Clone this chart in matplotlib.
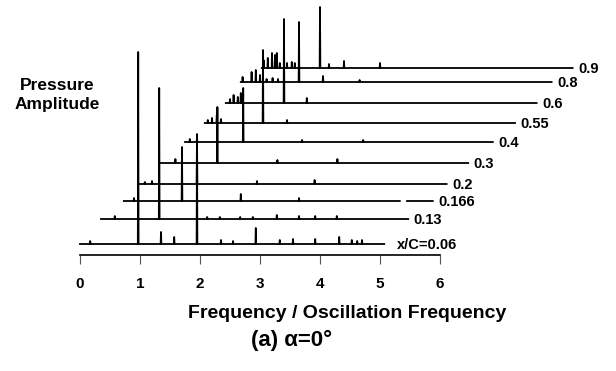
import numpy as np
import matplotlib
matplotlib.use("Agg")
import matplotlib.pyplot as plt

plt.rcParams["font.family"] = ["Liberation Sans", "DejaVu Sans"]

# one spectrum per chord station x/C, stacked as a waterfall
labels = ["x/C=0.06", "0.13", "0.166", "0.2", "0.3", "0.4", "0.55", "0.6", "0.8", "0.9"]
shift_x = [0.0, 0.35, 0.73, 0.98, 1.32, 1.75, 2.08, 2.43, 2.68, 3.03]   # freq units
shift_y = [11, 36, 54, 71, 92, 113, 132, 152, 173, 187]                  # amplitude units
span = [5.07, 5.12, 5.15, 5.13, 5.15, 5.13, 5.17, 5.18, 5.18, 5.18]
gaps = [None, None, (4.6, 4.72), None, None, None, None, None, None, None]

peak_f = [
    [0.17, 0.97, 1.35, 1.57, 1.95, 2.35, 2.55, 2.93, 3.33, 3.55, 3.92, 4.32, 4.53, 4.62, 4.7],
    [0.23, 0.97, 1.77, 1.98, 2.32, 2.53, 2.93, 3.3, 3.57, 3.93],
    [0.17, 0.97, 1.95, 2.92],
    [0.1, 0.22, 0.97, 1.97, 2.93],
    [0.27, 0.97, 1.97, 2.97],
    [0.08, 0.2, 0.97, 1.95, 2.97],
    [0.05, 0.12, 0.2, 0.27, 0.97, 1.37],
    [0.07, 0.13, 0.2, 0.25, 0.97, 1.35],
    [0.03, 0.18, 0.25, 0.32, 0.43, 0.53, 0.62, 0.97, 1.37, 1.98],
    [0.03, 0.1, 0.17, 0.22, 0.25, 0.3, 0.42, 0.5, 0.55, 0.97, 1.12, 1.37, 1.97],
]
peak_h = [
    [3, 192, 12, 7, 110, 4, 3, 16, 4, 5, 5, 7, 4, 3, 4],
    [3, 131, 2, 2, 2, 2, 4, 3, 3, 3],
    [3, 54, 7, 3],
    [2, 3, 49, 3, 4],
    [4, 56, 3, 4],
    [3, 5, 54, 2, 2],
    [3, 5, 8, 4, 73, 3],
    [4, 8, 6, 10, 84, 5],
    [5, 10, 12, 7, 3, 4, 3, 60, 6, 2],
    [8, 10, 15, 13, 15, 5, 5, 6, 5, 61, 4, 7, 5],
]

xticks = [0, 1, 2, 3, 4, 5, 6]


def spectrum(freqs, heights, end, gap, w=0.006):
    xs, ys = [0.0], [0.0]
    for f, h in sorted(zip(freqs, heights)):
        xs += [f - w, f, f + w]
        ys += [0.0, h, 0.0]
    xs.append(end)
    ys.append(0.0)
    xs, ys = np.array(xs), np.array(ys)
    if gap is not None:
        keep = (xs <= gap[0]) | (xs >= gap[1])
        xs, ys = xs[keep], ys[keep]
        i = np.searchsorted(xs, gap[1])
        xs = np.insert(xs, i, [gap[0], np.nan, gap[1]])
        ys = np.insert(ys, i, [0.0, np.nan, 0.0])
    return xs, ys


fig = plt.figure(figsize=(6.16, 3.71), dpi=100)
ax = fig.add_axes([80 / 616, 116 / 371, 360 / 616, 255 / 371])
ax.set_xlim(0, 6)
ax.set_ylim(0, 255)

for i, lab in enumerate(labels):
    xs, ys = spectrum(peak_f[i], peak_h[i], span[i], gaps[i])
    ax.plot(xs + shift_x[i], ys + shift_y[i], color="black", lw=1.3,
            solid_joinstyle="round", clip_on=False)
    off = 0.22 if i == 0 else 0.09
    ax.text(shift_x[i] + span[i] + off, shift_y[i] - 1, lab, fontsize=10.5,
            fontweight="bold", ha="left", va="center", clip_on=False)

for s in ["left", "top", "right"]:
    ax.spines[s].set_visible(False)
ax.spines["bottom"].set_linewidth(1.2)
ax.set_yticks([])
ax.set_xticks(xticks)
ax.set_xticklabels([str(t) for t in xticks], fontweight="bold", fontsize=11)
ax.tick_params(axis="x", direction="out", length=6.5, width=0.8, color="#555555", pad=9)

fig.text(57 / 616, 1 - 95 / 371, "Pressure\nAmplitude", ha="center", va="center",
         fontsize=12.5, fontweight="bold", linespacing=1.25)
fig.text(347 / 616, 1 - 314 / 371, "Frequency / Oscillation Frequency", ha="center",
         va="center", fontsize=14, fontweight="bold")
fig.text(292 / 616, 1 - 340 / 371, "(a) \u03b1=0\u00b0", ha="center", va="center",
         fontsize=16, fontweight="bold")

fig.savefig("out.png", dpi=100)
